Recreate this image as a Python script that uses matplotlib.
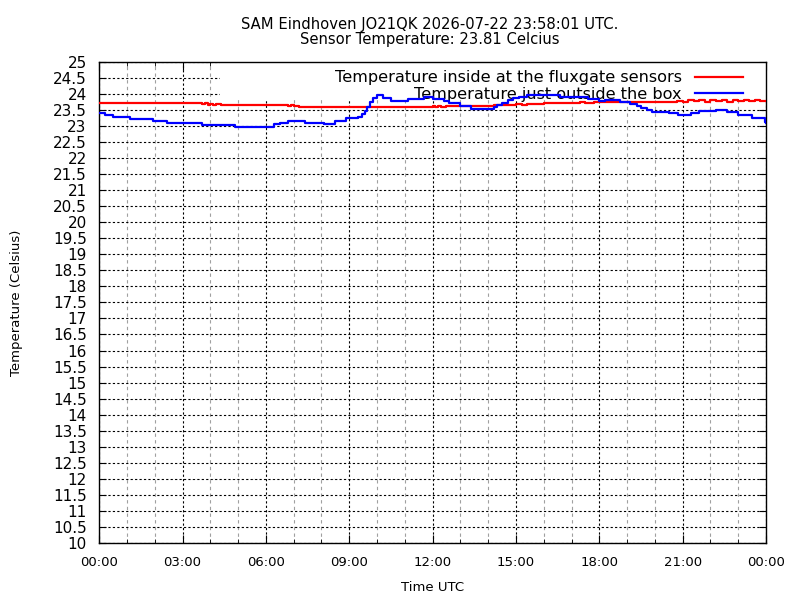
import matplotlib
matplotlib.use("Agg")
import matplotlib.pyplot as plt
from matplotlib.patches import Rectangle
import numpy as np

# ----------------------------
# Data (hours UTC, Celsius)
# ----------------------------
inside_hours = [0.0, 3.70, 3.80, 3.90, 4.00, 4.10, 4.20, 4.40, 6.80, 6.90, 7.00, 7.20,
                12.00, 12.10, 12.20, 12.30, 12.50, 14.20, 15.00, 15.20, 15.40, 15.60,
                16.00, 17.30, 17.50, 17.80, 18.00, 20.80, 21.00, 21.20, 21.40, 21.60,
                21.80, 22.00, 22.20, 22.40, 22.60, 22.80, 23.00, 23.20, 23.40, 23.60,
                23.80, 24.00]
inside_temp = [23.71, 23.68, 23.71, 23.66, 23.69, 23.66, 23.68, 23.65, 23.62, 23.65, 23.61, 23.58,
               23.62, 23.58, 23.63, 23.60, 23.63, 23.65, 23.68, 23.65, 23.69, 23.67,
               23.71, 23.74, 23.71, 23.76, 23.76, 23.79, 23.76, 23.81, 23.77, 23.80,
               23.76, 23.81, 23.77, 23.80, 23.76, 23.81, 23.77, 23.80, 23.77, 23.81,
               23.78, 23.78]

outside_hours = [0.0, 0.2, 0.5, 1.1, 1.95, 2.45, 3.7, 4.9, 6.3, 6.5, 6.8, 7.4, 8.1,
                 8.5, 8.9, 9.3, 9.45, 9.55, 9.65, 9.75, 9.85, 10.0, 10.2, 10.5, 11.1,
                 11.7, 12.0, 12.4, 12.6, 13.0, 13.4, 14.2, 14.3, 14.5, 14.7, 14.9, 15.1,
                 15.4, 16.6, 17.6, 18.0, 18.2, 18.75, 19.1, 19.35, 19.5, 19.7, 19.9,
                 20.5, 20.85, 21.3, 21.6, 22.2, 22.6, 23.0, 23.5, 23.95, 24.0]
outside_temp = [23.40, 23.33, 23.27, 23.21, 23.16, 23.09, 23.03, 22.96, 23.06, 23.10, 23.16, 23.09, 23.07,
                23.16, 23.24, 23.29, 23.36, 23.47, 23.60, 23.74, 23.86, 23.97, 23.87, 23.79, 23.84,
                23.89, 23.84, 23.79, 23.71, 23.63, 23.53, 23.60, 23.66, 23.72, 23.80, 23.86, 23.91,
                23.96, 23.90, 23.83, 23.77, 23.81, 23.74, 23.68, 23.63, 23.56, 23.50, 23.45,
                23.40, 23.35, 23.40, 23.47, 23.51, 23.44, 23.33, 23.24, 23.13, 23.09]

y_ticks = np.arange(10, 25.01, 0.5)
x_ticks = [0, 3, 6, 9, 12, 15, 18, 21, 24]
x_labels = ["00:00", "03:00", "06:00", "09:00", "12:00", "15:00", "18:00", "21:00", "00:00"]

title_text = "SAM Eindhoven JO21QK 2026-07-22 23:58:01 UTC.\nSensor Temperature: 23.81 Celcius"

# ----------------------------
# Figure
# ----------------------------
fig = plt.figure(figsize=(8, 6), dpi=100)
ax = fig.add_axes([0.124, 0.095, 0.8335, 0.802])

ax.step(inside_hours, inside_temp, where="post", color="#ff0000", lw=1.6,
        label="Temperature inside at the fluxgate sensors", zorder=3)
ax.step(outside_hours, outside_temp, where="post", color="#0000ff", lw=1.6,
        label="Temperature just outside the box", zorder=3)

ax.set_xlim(0, 24)
ax.set_ylim(10, 25)
ax.set_xticks(x_ticks)
ax.set_xticklabels(x_labels)
ax.set_xticks(np.arange(0, 25, 1), minor=True)
ax.set_yticks(y_ticks)
ax.set_yticklabels([f"{v:g}" for v in y_ticks])

ax.tick_params(axis="both", which="both", direction="in", top=True, right=True)
ax.tick_params(axis="y", which="major", length=5, labelsize=11, pad=9)
ax.tick_params(axis="x", which="major", length=6, labelsize=9.5, pad=9)
ax.tick_params(axis="x", which="minor", length=3)

ax.grid(True, axis="y", which="major", color="black", ls=(0, (2, 2)), lw=0.8, zorder=0)
ax.grid(True, axis="x", which="major", color="black", ls=(0, (2, 2)), lw=0.8, zorder=0)
ax.grid(True, axis="x", which="minor", color="#a0a0a0", ls=(0, (3, 3)), lw=0.8, zorder=0)
ax.set_axisbelow(True)

for sp in ax.spines.values():
    sp.set_linewidth(1)

# opaque key area like gnuplot
ax.add_patch(Rectangle((0.181, 0.921), 0.819, 0.079, transform=ax.transAxes,
                       facecolor="white", edgecolor="none", zorder=1.5))

leg = ax.legend(loc="upper right", bbox_to_anchor=(0.975, 0.996), frameon=False,
                markerfirst=False, fontsize=11.6, handlelength=3.0, handletextpad=0.8,
                labelspacing=0.1, borderaxespad=0)
leg.set_zorder(1.8)
for h in leg.get_lines():
    h.set_linewidth(1.6)

fig.text(0.5375, 0.972, title_text, fontsize=10.6, ha="center", va="top", linespacing=1.05)
ax.set_xlabel("Time UTC", fontsize=9.5)
ax.xaxis.set_label_coords(0.5, -0.079)
ax.set_ylabel("Temperature (Celsius)", fontsize=9.5)
ax.yaxis.set_label_coords(-0.114, 0.5)

plt.savefig("out.png", dpi=100)
plt.close()
